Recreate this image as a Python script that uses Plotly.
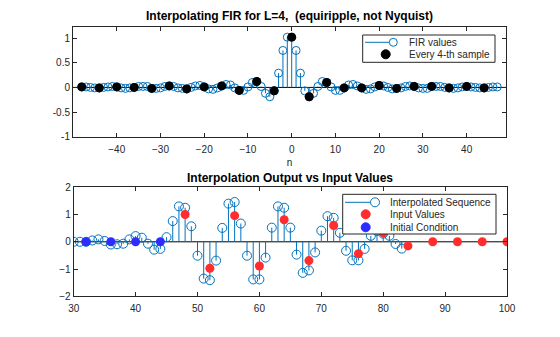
import plotly.graph_objects as go

# ---- data -------------------------------------------------------------
# FIR impulse response, n = -48 .. 47 (symmetric about n = -0.5)
fir_n = list(range(-48, 48))
fir_h = [
    # n = -48 .. -1
    0.01, 0.01, 0.00, -0.01, -0.01, 0.00, 0.01, 0.02,
    0.01, -0.01, -0.02, -0.01, 0.00, 0.02, 0.02, 0.02,
    -0.02, -0.02, -0.01, 0.02, 0.03, 0.02, -0.01, -0.02,
    -0.03, 0.00, 0.03, 0.04, 0.01, -0.03, -0.04, -0.01,
    0.03, 0.06, 0.05, -0.01, -0.06, -0.06, 0.01, 0.10,
    0.12, 0.02, -0.12, -0.19, -0.07, 0.29, 0.75, 1.02,
    # n = 0 .. 47
    1.02, 0.75, 0.29, -0.07, -0.19, -0.12, 0.02, 0.12,
    0.10, 0.01, -0.06, -0.06, -0.01, 0.05, 0.06, 0.03,
    -0.01, -0.04, -0.03, 0.01, 0.04, 0.03, 0.00, -0.03,
    -0.02, -0.01, 0.02, 0.03, 0.02, -0.01, -0.02, -0.02,
    0.02, 0.02, 0.02, 0.00, -0.01, -0.02, -0.01, 0.01,
    0.02, 0.01, 0.00, -0.01, -0.01, 0.00, 0.01, 0.01,
]
# every 4-th sample of the response
every4_n = list(range(-48, 48, 4))
every4_h = [fir_h[fir_n.index(k)] for k in every4_n]

# interpolator output
out_n = list(range(30, 84))
out_y = [
    0.00, 0.00, 0.00, 0.05, 0.09, 0.03, -0.10, -0.09, -0.07, 0.09,
    0.21, 0.15, -0.07, -0.29, -0.26, 0.17, 0.76, 1.30, 1.25, 0.57,
    -0.51, -1.35, -1.41, -0.69, 0.51, 1.40, 1.46, 0.67, -0.51, -1.38,
    -1.38, -0.58, 0.52, 1.30, 1.25, 0.52, -0.47, -1.14, -1.05, -0.39,
    0.41, 0.94, 0.88, 0.33, -0.33, -0.68, -0.68, -0.26, 0.22, 0.40,
    0.30, 0.22, -0.08, -0.25,
]
# input samples
in_n = [48, 52, 56, 60, 64, 68, 72, 76, 80, 84, 88, 92, 96, 100]
in_y = [1.00, -0.97, 0.96, -0.89, 0.81, -0.69, 0.60, -0.44, 0.33, -0.15,
        0.0, 0.0, 0.0, 0.0]
# initial condition samples
ic_n = [32, 36, 40, 44]
ic_y = [0.0, 0.0, 0.0, 0.0]

# ---- styling ------------------------------------------------------------
W, H = 560, 337
STEM = "#0072BD"
AX = "#262626"
RED = "rgb(255,45,45)"
BLUE = "rgb(45,45,255)"
FONT = "Liberation Sans, Arial, sans-serif"


def stem_segments(xs, ys):
    sx, sy = [], []
    for x, y in zip(xs, ys):
        sx += [x, x, None]
        sy += [0, y, None]
    return sx, sy


def px_x(p):
    return p / W


def px_y(p):
    return 1 - p / H


fig = go.Figure()

# top panel: FIR response
sx, sy = stem_segments(fir_n, fir_h)
fig.add_trace(go.Scatter(x=sx, y=sy, mode="lines", line=dict(color=STEM, width=1),
                         xaxis="x", yaxis="y", hoverinfo="skip", showlegend=False))
fig.add_trace(go.Scatter(x=fir_n, y=fir_h, mode="markers", name="FIR values",
                         marker=dict(symbol="circle-open", size=8, color=STEM,
                                     line=dict(width=1, color=STEM)),
                         xaxis="x", yaxis="y", showlegend=False))
fig.add_trace(go.Scatter(x=every4_n, y=every4_h, mode="markers", name="Every 4-th sample",
                         marker=dict(symbol="circle", size=9, color="black"),
                         xaxis="x", yaxis="y", showlegend=False))

# bottom panel: interpolation output
sx, sy = stem_segments(out_n, out_y)
fig.add_trace(go.Scatter(x=sx, y=sy, mode="lines", line=dict(color=STEM, width=1),
                         xaxis="x2", yaxis="y2", hoverinfo="skip", showlegend=False))
fig.add_trace(go.Scatter(x=out_n, y=out_y, mode="markers", name="Interpolated Sequence",
                         marker=dict(symbol="circle-open", size=9, color=STEM,
                                     line=dict(width=1, color=STEM)),
                         xaxis="x2", yaxis="y2", showlegend=False))
fig.add_trace(go.Scatter(x=in_n, y=in_y, mode="markers", name="Input Values",
                         marker=dict(symbol="circle", size=9, color=RED),
                         xaxis="x2", yaxis="y2", showlegend=False))
fig.add_trace(go.Scatter(x=ic_n, y=ic_y, mode="markers", name="Initial Condition",
                         marker=dict(symbol="circle", size=9, color=BLUE),
                         xaxis="x2", yaxis="y2", showlegend=False))

axis_common = dict(showline=True, linecolor=AX, linewidth=1, mirror="ticks",
                   ticks="inside", ticklen=4, tickcolor=AX, showgrid=False,
                   zeroline=False, automargin=False,
                   tickfont=dict(family=FONT, size=10, color=AX))

fig.update_layout(
    width=W, height=H, margin=dict(l=0, r=0, t=0, b=0, autoexpand=False),
    paper_bgcolor="white", plot_bgcolor="white", showlegend=False,
    xaxis=dict(domain=[px_x(73), px_x(506)], range=[-50, 49],
               tickvals=[-40, -30, -20, -10, 0, 10, 20, 30, 40], ticklabelstandoff=3,
               title=dict(text="n", font=dict(family=FONT, size=10, color=AX), standoff=5),
               anchor="y", **axis_common),
    yaxis=dict(domain=[px_y(136.7), px_y(27.3)], range=[-1, 1.22],
               tickvals=[-1, -0.5, 0, 0.5, 1], ticktext=["-1", "-0.5", "0", "0.5", "1"],
               anchor="x", **axis_common),
    xaxis2=dict(domain=[px_x(73.7), px_x(507)], range=[30, 100], ticklabelstandoff=3,
                tickvals=[30, 40, 50, 60, 70, 80, 90, 100], anchor="y2", **axis_common),
    yaxis2=dict(domain=[px_y(296.3), px_y(187.3)], range=[-2, 2],
                tickvals=[-2, -1, 0, 1, 2], anchor="x2", **axis_common),
)

# stem baselines
for xr, yr in (("x domain", "y"), ("x2 domain", "y2")):
    fig.add_shape(type="line", xref=xr, yref=yr, x0=0, x1=1, y0=0, y1=0,
                  line=dict(color="black", width=1), layer="below")

# panel titles
title_font = dict(family=FONT, size=12, color="black")
fig.add_annotation(text="<b>Interpolating FIR for L=4,\u00a0 (equiripple, not Nyquist)</b>",
                   xref="x domain", yref="y domain", x=0.5, y=1, yanchor="bottom",
                   yshift=2, showarrow=False, font=title_font)
fig.add_annotation(text="<b>Interpolation Output vs Input Values</b>",
                   xref="x2 domain", yref="y2 domain", x=0.5, y=1, yanchor="bottom",
                   yshift=0, showarrow=False, font=title_font)

# legends
leg_font = dict(family=FONT, size=10, color=AX)


def legend_box(x0, y0, x1, y1):
    fig.add_shape(type="rect", xref="paper", yref="paper",
                  x0=px_x(x0), x1=px_x(x1), y0=px_y(y1), y1=px_y(y0),
                  line=dict(color=AX, width=1), fillcolor="white", layer="above")


def legend_text(x, y, text):
    fig.add_annotation(text=text, xref="paper", yref="paper", x=px_x(x), y=px_y(y),
                       xanchor="left", yanchor="middle", showarrow=False, font=leg_font)


def legend_dot(cx, cy, d, color, open_=False):
    r = d / 2
    fig.add_shape(type="circle", xref="paper", yref="paper",
                  x0=px_x(cx - r), x1=px_x(cx + r), y0=px_y(cy + r), y1=px_y(cy - r),
                  line=dict(color=color, width=1),
                  fillcolor="white" if open_ else color, layer="above")


def legend_line(xa, xb, y, color):
    fig.add_shape(type="line", xref="paper", yref="paper",
                  x0=px_x(xa), x1=px_x(xb), y0=px_y(y), y1=px_y(y),
                  line=dict(color=color, width=1), layer="above")


# top legend
legend_box(362.7, 35, 495, 62.3)
legend_line(365, 389, 42.3, STEM)
legend_dot(393.3, 42.3, 8, STEM, open_=True)
legend_text(407, 42.3, "FIR values")
legend_dot(385.7, 54.3, 9, "black")
legend_text(407, 54.3, "Every 4-th sample")

# bottom legend
legend_box(342.7, 194.3, 496, 234)
legend_line(345, 370.5, 202.3, STEM)
legend_dot(375, 202.3, 9, STEM, open_=True)
legend_text(388, 202.3, "Interpolated Sequence")
legend_dot(365.7, 214.3, 9, RED)
legend_text(388, 214.3, "Input Values")
legend_dot(365.7, 227.3, 9, BLUE)
legend_text(388, 227.3, "Initial Condition")

fig.write_html("out.html")
